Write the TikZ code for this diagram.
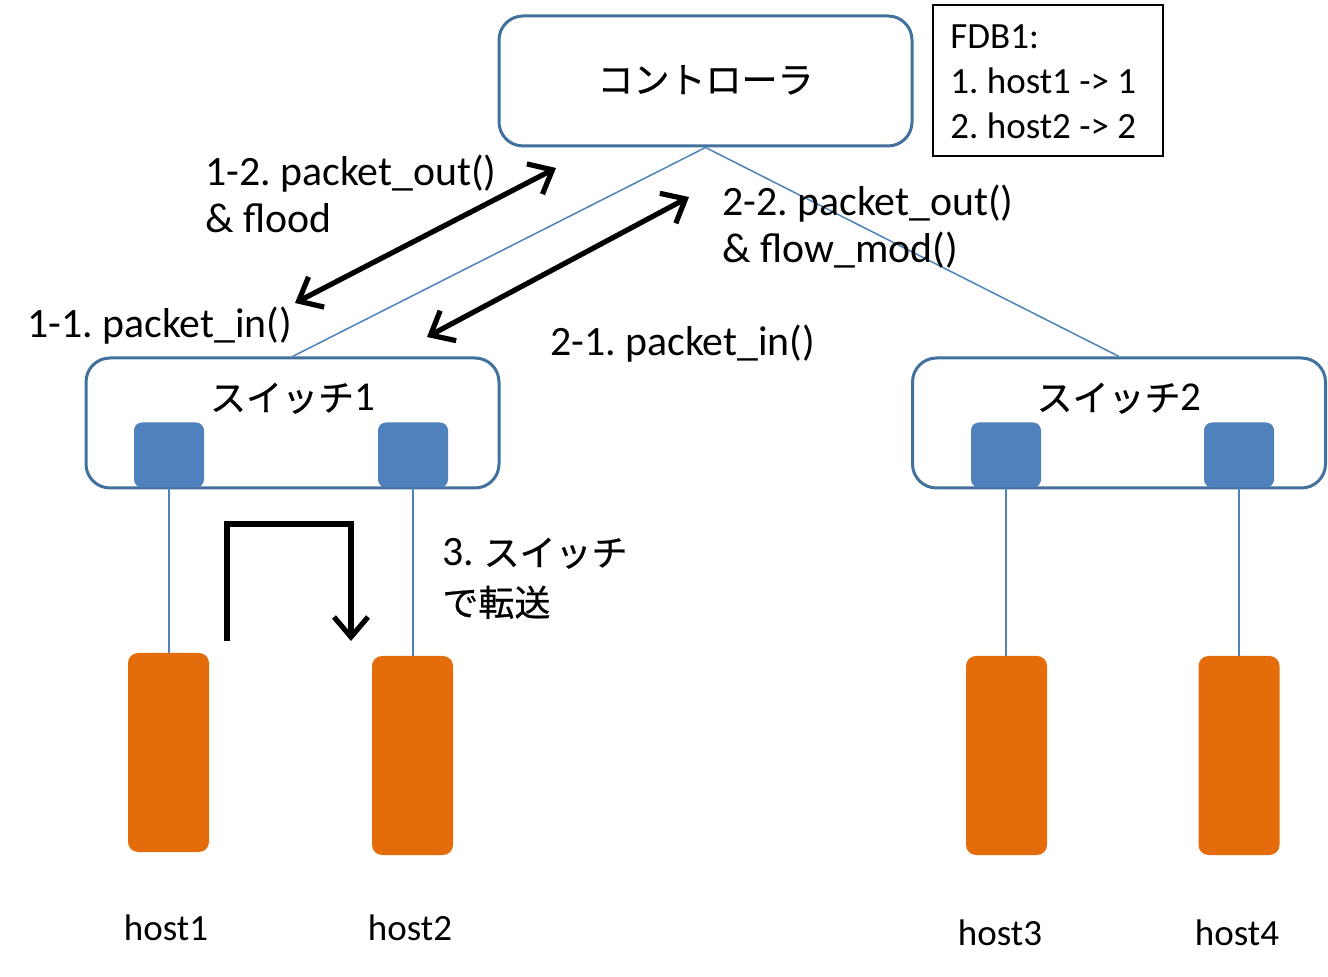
\documentclass[tikz,border=0pt]{standalone}
\usepackage{fontspec}
\setmainfont{Carlito}
\newfontfamily\cjk[FakeBold=0.6]{Noto Sans CJK JP}
\usetikzlibrary{arrows.meta}
\definecolor{boxline}{HTML}{41719C}
\definecolor{portfill}{HTML}{4F81BD}
\definecolor{hostfill}{HTML}{E46C0A}
\frenchspacing
\begin{document}
\begin{tikzpicture}[x=0.5pt,y=-0.5pt,
  bigbox/.style={draw=boxline, line width=1.5pt, rounded corners=12pt, fill=white,
    minimum width=206.5pt, minimum height=65pt, inner sep=0pt},
  port/.style={fill=portfill, rounded corners=4pt, minimum width=35pt, minimum height=32.5pt, inner sep=0pt},
  host/.style={fill=hostfill, rounded corners=5pt, minimum width=40.5pt, minimum height=99.5pt, inner sep=0pt},
  link/.style={draw=portfill, line width=0.75pt},
  msg/.style={draw=black, line width=2.6pt, {Straight Barb[length=10pt,width=17pt,line width=2.6pt]}-{Straight Barb[length=10pt,width=17pt,line width=2.6pt]}},
  lbl/.style={anchor=base west, inner sep=0pt, font=\fontsize{20.9pt}{24pt}\selectfont},
  hlbl/.style={anchor=base, inner sep=0pt, font=\fontsize{18.5pt}{22pt}\selectfont},
  jp/.style={anchor=base, inner sep=0pt, font=\fontsize{18pt}{22pt}\selectfont}
]
\useasboundingbox (0,0) rectangle (1328,977);

% controller and switches
\node[bigbox] (ctrl) at (705.5,81) {};
\node[jp] (ctrltxt) at (705.5,93) {\cjk コントローラ};
\node[bigbox] (sw1) at (292.5,423) {};
\node[bigbox] (sw2) at (1119,423) {};

% links controller-switches
\draw[link] (ctrl.south) -- (sw1.north);
\draw[link] (ctrl.south) -- (sw2.north);

\node[jp] (sw1txt) at (292.5,411) {{\cjk スイッチ}{\fontsize{20.5pt}{24pt}\selectfont 1}};
\node[jp] (sw2txt) at (1119,411) {{\cjk スイッチ}{\fontsize{20.5pt}{24pt}\selectfont 2}};

% ports
\node[port] (p1) at (169,455) {};
\node[port] (p2) at (413,455) {};
\node[port] (p3) at (1006,455) {};
\node[port] (p4) at (1239,455) {};

% hosts
\node[host] (h1) at (168.5,752.5) {};
\node[host] (h2) at (412.5,755.5) {};
\node[host] (h3) at (1006.5,755.5) {};
\node[host] (h4) at (1239,755.5) {};

\draw[link] (p1.south) -- (p1.south |- h1.north);
\draw[link] (p2.south) -- (p2.south |- h2.north);
\draw[link] (p3.south) -- (p3.south |- h3.north);
\draw[link] (p4.south) -- (p4.south |- h4.north);

% host labels
\node[hlbl] (h1l) at (166,940) {host1};
\node[hlbl] (h2l) at (410,940) {host2};
\node[hlbl] (h3l) at (1000,945) {host3};
\node[hlbl] (h4l) at (1237,945) {host4};

% FDB box
\node[draw=black, line width=1pt, minimum width=115pt, minimum height=75.5pt, inner sep=0pt] (fdb) at (1048,80.5) {};
\node[anchor=west, inner sep=0pt, align=left,
  font=\fontsize{18.5pt}{22.5pt}\selectfont] (fdbtxt) at (950,82)
  {FDB1:\\1. host1 -> 1\\2. host2 -> 2};

% message arrows
\coordinate (a1s) at (295,303);
\coordinate (a1e) at (556,168);
\coordinate (a2s) at (427,337);
\coordinate (a2e) at (689,197);
\draw[msg] (a1s) -- (a1e);
\draw[msg] (a2s) -- (a2e);

% labels
\node[lbl] (l12) at (205,186) {1-2. packet\_out()};
\node[lbl] (l12b) at (205,233) {\& flood};
\node[lbl] (l11) at (27,338) {1-1. packet\_in()};
\node[lbl] (l22) at (722,216) {2-2. packet\_out()};
\node[lbl] (l22b) at (722,263) {\& flow\_mod()};
\node[lbl] (l21) at (550,356) {2-1. packet\_in()};
\node[lbl] (l3) at (442,566) {3. {\cjk\fontsize{18pt}{22pt}\selectfont スイッチ}};
\node[lbl] (l3b) at (442,616) {{\cjk\fontsize{18pt}{22pt}\selectfont で転送}};

% forwarding arrow
\coordinate (f1) at (227,641);
\coordinate (f2) at (227,524);
\coordinate (f3) at (351,524);
\coordinate (f4) at (351,641);
\draw[draw=black, line width=2.6pt, -{Straight Barb[length=10pt,width=17pt,line width=2.6pt]}]
  (f1) -- (f2) -- (f3) -- (f4);
\end{tikzpicture}
\end{document}
